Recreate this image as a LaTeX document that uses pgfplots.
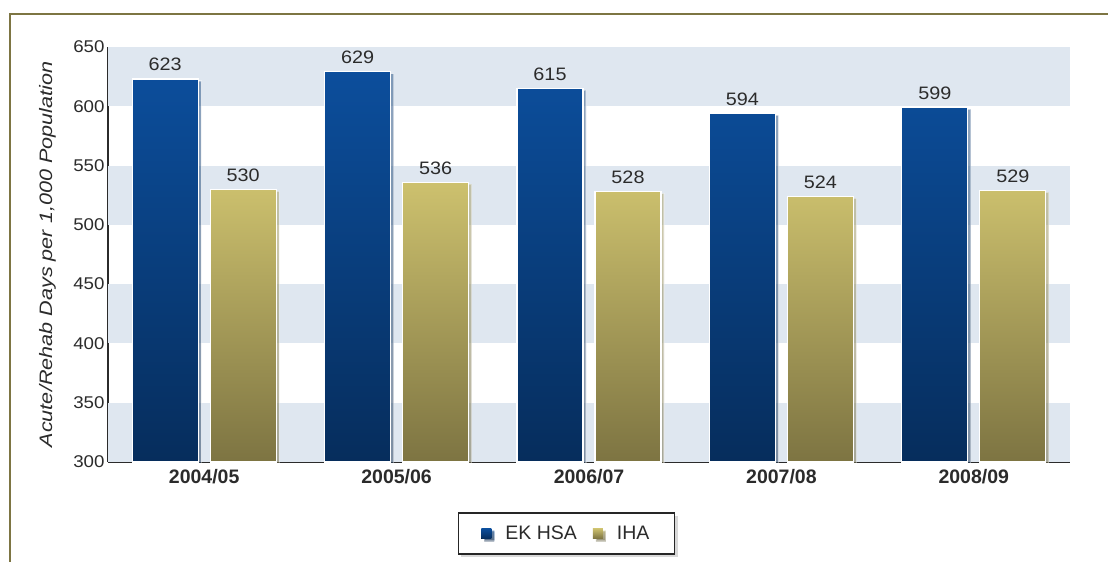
\documentclass[border=0pt]{standalone}
\usepackage{fontspec}
\setmainfont{Liberation Sans}
\newfontfamily\tickfont{Liberation Sans}[FakeStretch=1.1]
\newfontfamily\ylabfont{Liberation Sans}[FakeStretch=1.2]
\usepackage{pgfplots}
\pgfplotsset{compat=1.18}
\usetikzlibrary{shadows}

\definecolor{ekblue}{HTML}{0C4E9C}
\definecolor{ekbluedk}{HTML}{062D5C}
\definecolor{ihaol}{HTML}{CDC16E}
\definecolor{ihaoldk}{HTML}{7D7442}
\definecolor{band}{HTML}{DFE7F0}
\definecolor{framecol}{HTML}{7D7543}
\definecolor{txt}{HTML}{2B2B2B}

\begin{document}
\begin{tikzpicture}[x=1pt,y=1pt]
\useasboundingbox (0,0) rectangle (1108,562);
\fill[white] (0,0) rectangle (1108,562);
\draw[framecol, line width=2.5pt] (10,0) -- (10,548) -- (1108,548);
\begin{axis}[
  at={(108pt,100pt)}, anchor=south west,
  width=962pt, height=415pt, scale only axis,
  xmin=-0.5, xmax=4.5, ymin=300, ymax=650,
  ytick={300,350,...,650},
  xtick={0,...,4},
  xticklabels={2004/05,2005/06,2006/07,2007/08,2008/09},
  ybar=12pt, bar width=66pt,
  axis x line*=bottom, axis y line*=left,
  axis line style={txt, line width=1.5pt, -},
  major tick length=0pt,
  /pgf/number format/assume math mode=true,
  yticklabel style={font=\tickfont\fontsize{17}{20}\selectfont, text=txt},
  xticklabel style={font=\fontsize{19.5}{22}\selectfont\bfseries, text=txt, yshift=-4pt},
  ylabel={Acute/Rehab Days per 1,000 Population},
  ylabel style={font=\ylabfont\fontsize{18}{20}\selectfont\itshape, text=txt,
    at={(axis description cs:-0.063,0.5)}, anchor=center},
  nodes near coords,
  every node near coord/.append style={font=\tickfont\fontsize{18}{20}\selectfont,
    text=txt, yshift=4pt},
  legend style={at={(axis description cs:0.4766,-0.1723)}, anchor=center,
    legend columns=2, draw=black!85, line width=1.8pt,
    font=\fontsize{19.5}{22}\selectfont, text=txt,
    inner xsep=23pt, inner ysep=11pt,
    drop shadow={shadow xshift=3pt, shadow yshift=-3pt, opacity=0.3},
    /tikz/every odd column/.append style={column sep=12pt},
    /tikz/every even column/.append style={column sep=14pt}},
  legend image code/.code={
    \fill[#1, draw=none] (0pt,-5pt) rectangle (10pt,5pt);},
]
\fill[band] (axis cs:-0.5,600) rectangle (axis cs:4.5,650);
\fill[band] (axis cs:-0.5,500) rectangle (axis cs:4.5,550);
\fill[band] (axis cs:-0.5,400) rectangle (axis cs:4.5,450);
\fill[band] (axis cs:-0.5,300) rectangle (axis cs:4.5,350);
\addplot[draw=white, line width=1.2pt, top color=ekblue, bottom color=ekbluedk,
  drop shadow={shadow xshift=3pt, shadow yshift=-2pt, opacity=0.35}]
  coordinates {(0,623) (1,629) (2,615) (3,594) (4,599)};
\addlegendentry{EK HSA}
\addplot[draw=white, line width=1.2pt, top color=ihaol, bottom color=ihaoldk,
  drop shadow={shadow xshift=3pt, shadow yshift=-2pt, opacity=0.35}]
  coordinates {(0,530) (1,536) (2,528) (3,524) (4,529)};
\addlegendentry{IHA}
\end{axis}
\end{tikzpicture}
\end{document}
